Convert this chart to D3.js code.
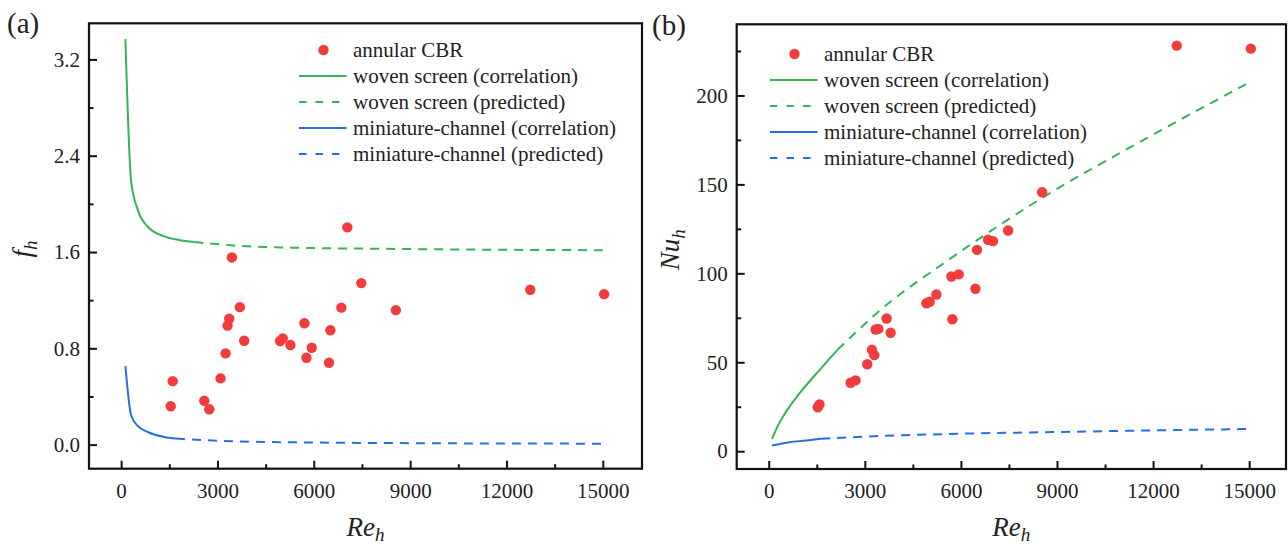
<!DOCTYPE html>
<html>
<head>
<meta charset="utf-8">
<script src="https://cdn.jsdelivr.net/npm/d3@7"></script>
<style>
  body { margin: 0; background: #fff; }
  svg { display: block; font-family: "Liberation Serif", "Times New Roman", serif; }
  .tick text { font-size: 21px; fill: #222; }
</style>
</head>
<body>
<div id="chart"></div>
<script>
const W = 1288, H = 547
const serif = '"Liberation Serif", "Times New Roman", serif'

const green = '#34b35a'
const blue = '#2470e0'
const red = '#f23c3c'

// panel (a) : friction factor
const reA = [1544, 1606, 2590, 2745, 3097, 3253, 3315, 3366, 3449, 3698, 3833, 4951, 5034, 5273, 5709, 5771, 5936, 6474, 6516, 6858, 7044, 7480, 8555, 12741, 15040]
const fA = [0.319, 0.527, 0.364, 0.294, 0.55, 0.758, 0.989, 1.047, 1.555, 1.142, 0.863, 0.861, 0.883, 0.827, 1.008, 0.722, 0.805, 0.68, 0.95, 1.138, 1.805, 1.342, 1.117, 1.286, 1.25]

const wovenCorrA = [[134, 3.37], [311, 2.19], [519, 1.95], [830, 1.81], [1346, 1.73], [1800, 1.70], [2280, 1.683]]
const wovenPredA = [[2280, 1.683], [3500, 1.655], [5000, 1.638], [8000, 1.627], [11000, 1.62], [15000, 1.615]]
const miniCorrA = [[134, 0.652], [311, 0.244], [519, 0.155], [830, 0.105], [1346, 0.063], [1709, 0.05]]
const miniPredA = [[1709, 0.05], [2500, 0.038], [3500, 0.027], [6200, 0.017], [10000, 0.011], [15000, 0.008]]

// panel (b) : Nusselt number
const reB = [1532, 1585, 2555, 2711, 3076, 3222, 3296, 3337, 3420, 3681, 3806, 4922, 5025, 5234, 5703, 5932, 5734, 6454, 6504, 6848, 7004, 7474, 8537, 12739, 15053]
const nuB = [24.7, 26.3, 38.5, 39.8, 48.9, 57, 54, 68.4, 68.8, 74.6, 66.6, 83.2, 84, 88.1, 98.2, 99.4, 74.2, 91.3, 113.2, 118.9, 118.1, 124.1, 145.6, 228, 226.3]

const wovenCorrB = [[106, 7], [250, 13], [500, 21], [960, 32.5], [1585, 45.6], [2150, 57]]
const wovenPredB = [[2150, 57], [3460, 79], [5650, 108], [8500, 142], [11400, 172], [15030, 207.5]]
const miniCorrB = [[106, 3.2], [647, 5.1], [1168, 6.0], [1638, 7]]
const miniPredB = [[1638, 7], [3000, 8.2], [5650, 9.7], [9000, 10.8], [12000, 11.7], [15000, 12.5]]

const legendLabels = ['annular CBR', 'woven screen (correlation)', 'woven screen (predicted)', 'miniature-channel (correlation)', 'miniature-channel (predicted)']
const xTicks = [0, 3000, 6000, 9000, 12000, 15000]

const svg = d3.select('#chart')
    .append('svg')
    .attr('width', W)
    .attr('height', H)

const panels = [
    {
        tag: '(a)', tagX: 7, tagY: 33,
        left: 89, right: 642, top: 23.3, bottom: 468.7,
        xDomain: [-1000, 16220], yDomain: [-0.2, 3.5],
        yTicks: [0, 0.8, 1.6, 2.4, 3.2], yMinor: [0.4, 1.2, 2.0, 2.8],
        yFormat: d3.format('.1f'),
        re: reA, vals: fA,
        lines: [wovenCorrA, wovenPredA, miniCorrA, miniPredA],
        yTitle: 'f', legendX: 299, legendY: 50,
    },
    {
        tag: '(b)', tagX: 652, tagY: 35,
        left: 736.7, right: 1286, top: 24.3, bottom: 469,
        xDomain: [-1000, 16150], yDomain: [-10, 240],
        yTicks: [0, 50, 100, 150, 200], yMinor: [25, 75, 125, 175, 225],
        yFormat: d3.format('d'),
        re: reB, vals: nuB,
        lines: [wovenCorrB, wovenPredB, miniCorrB, miniPredB],
        yTitle: 'Nu', legendX: 770, legendY: 54,
    }
]

const lineStyles = [
    { color: green, dash: null },
    { color: green, dash: '9,7' },
    { color: blue, dash: null },
    { color: blue, dash: '9,7' },
]

const styleAxis = a => {
    a.attr('font-family', serif).attr('font-size', 21)
    a.select('.domain').remove()
    a.selectAll('line').attr('stroke', '#111').attr('stroke-width', 2)
}

panels.forEach(p => {
    const x = d3.scaleLinear().domain(p.xDomain).range([p.left, p.right])
    const y = d3.scaleLinear().domain(p.yDomain).range([p.bottom, p.top])

    const g = svg.append('g')

    // minor ticks
    g.append('g')
        .attr('transform', `translate(0,${p.bottom})`)
        .call(d3.axisBottom(x).tickValues([1500, 4500, 7500, 10500, 13500]).tickSizeInner(-4.5).tickSizeOuter(0).tickFormat(''))
        .call(styleAxis)

    g.append('g')
        .attr('transform', `translate(${p.left},0)`)
        .call(d3.axisLeft(y).tickValues(p.yMinor).tickSizeInner(-4.5).tickSizeOuter(0).tickFormat(''))
        .call(styleAxis)

    // major ticks
    g.append('g')
        .attr('transform', `translate(0,${p.bottom})`)
        .call(d3.axisBottom(x).tickValues(xTicks).tickSizeInner(-8).tickSizeOuter(0).tickPadding(14).tickFormat(d3.format('d')))
        .call(styleAxis)

    g.append('g')
        .attr('transform', `translate(${p.left},0)`)
        .call(d3.axisLeft(y).tickValues(p.yTicks).tickSizeInner(-8).tickSizeOuter(0).tickPadding(9).tickFormat(p.yFormat))
        .call(styleAxis)

    // frame
    g.append('rect')
        .attr('x', p.left)
        .attr('y', p.top)
        .attr('width', p.right - p.left)
        .attr('height', p.bottom - p.top)
        .attr('fill', 'none')
        .attr('stroke', '#111')
        .attr('stroke-width', 2.2)

    const line = d3.line()
        .x(d => x(d[0]))
        .y(d => y(d[1]))
        .curve(d3.curveMonotoneX)

    p.lines.forEach((l, i) => {
        g.append('path')
            .datum(l)
            .attr('d', line)
            .attr('fill', 'none')
            .attr('stroke', lineStyles[i].color)
            .attr('stroke-width', 2)
            .attr('stroke-dasharray', lineStyles[i].dash)
    })

    g.selectAll('circle.pt')
        .data(p.re.map((r, i) => [r, p.vals[i]]))
        .enter().append('circle')
        .attr('class', 'pt')
        .attr('cx', d => x(d[0]))
        .attr('cy', d => y(d[1]))
        .attr('r', 5.2)
        .attr('fill', red)

    // legend
    const lg = g.append('g').attr('transform', `translate(${p.legendX},${p.legendY})`)
    legendLabels.forEach((label, i) => {
        const row = lg.append('g').attr('transform', `translate(0,${i * 26})`)
        if (i === 0) {
            row.append('circle').attr('cx', 24.5).attr('cy', 0).attr('r', 5.2).attr('fill', red)
        } else {
            row.append('line')
                .attr('x1', 0).attr('x2', 47.5).attr('y1', 0).attr('y2', 0)
                .attr('stroke', lineStyles[i - 1].color)
                .attr('stroke-width', 2)
                .attr('stroke-dasharray', lineStyles[i - 1].dash ? '7.5,9' : null)
        }
        row.append('text')
            .attr('x', 54)
            .attr('y', 6.5)
            .attr('font-size', 21)
            .attr('fill', '#222')
            .text(label)
    })

    // axis titles
    const cx = (p.left + p.right) / 2
    const xt = g.append('text')
        .attr('x', cx)
        .attr('y', 536)
        .attr('text-anchor', 'middle')
        .attr('font-size', 27)
        .attr('font-style', 'italic')
        .attr('fill', '#222')
    xt.append('tspan').text('Re')
    xt.append('tspan').attr('font-size', 19).attr('dy', 5).text('h')

    const cy = (p.top + p.bottom) / 2 + 3
    const yx = p.left - 58
    const yt = g.append('text')
        .attr('transform', `translate(${yx},${cy}) rotate(-90)`)
        .attr('text-anchor', 'middle')
        .attr('font-size', 27)
        .attr('font-style', 'italic')
        .attr('fill', '#222')
    yt.append('tspan').text(p.yTitle)
    yt.append('tspan').attr('font-size', 19).attr('dy', 6).text('h')

    g.append('text')
        .attr('x', p.tagX)
        .attr('y', p.tagY)
        .attr('font-size', 29)
        .attr('fill', '#222')
        .text(p.tag)
})
</script>
</body>
</html>
